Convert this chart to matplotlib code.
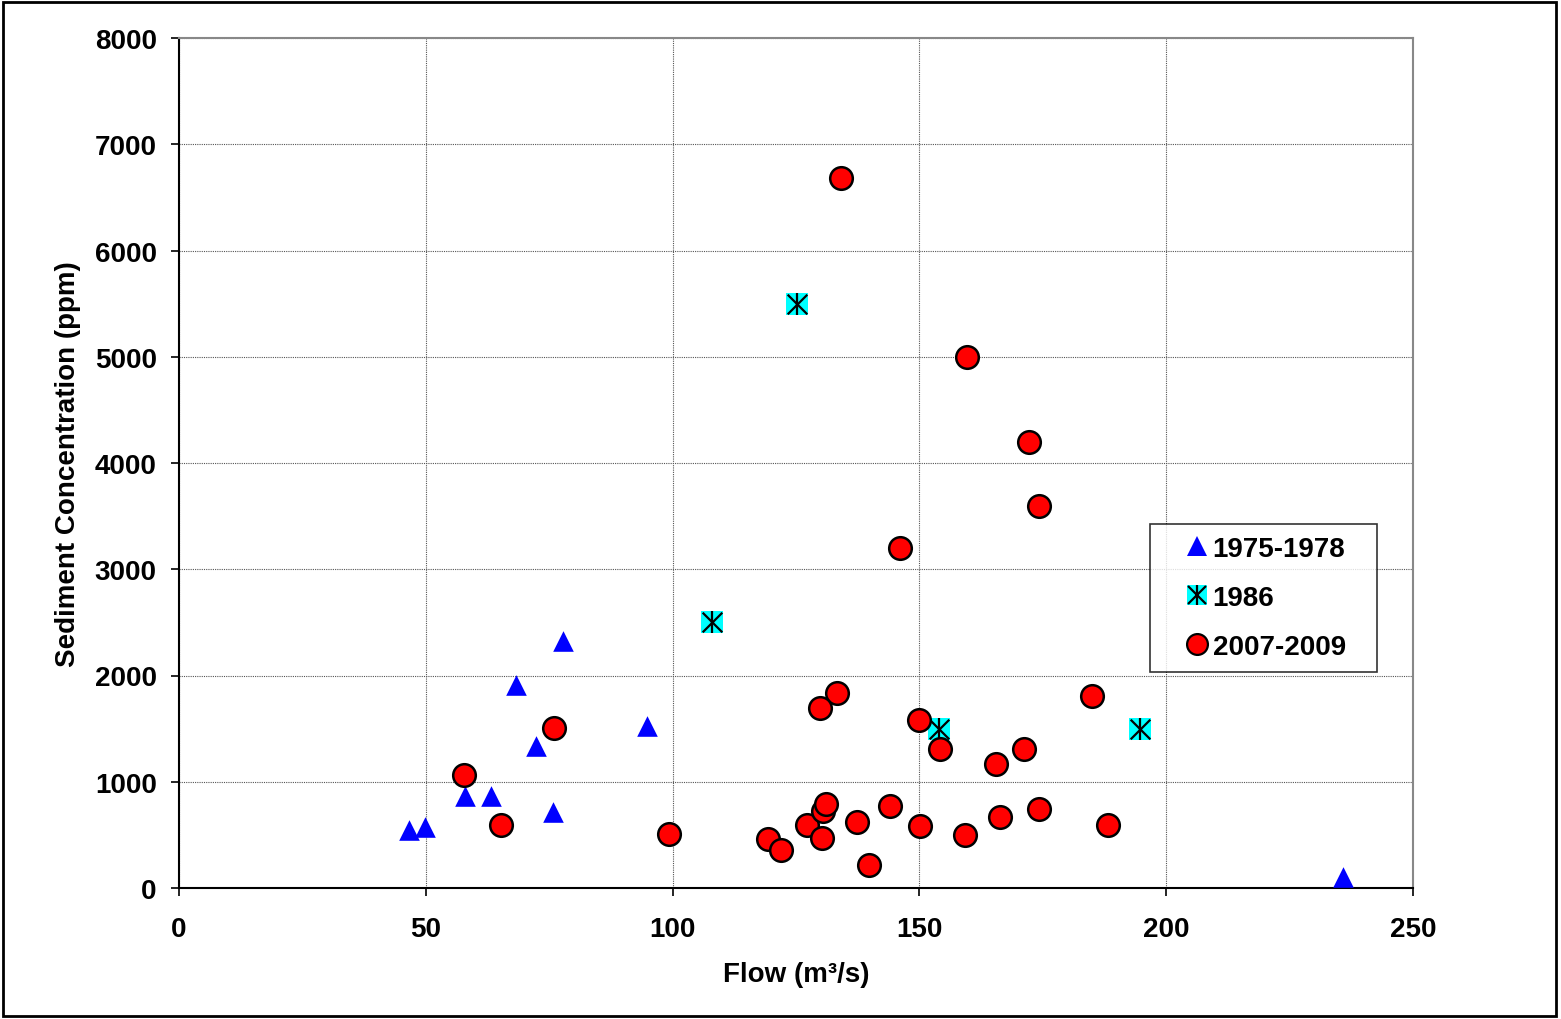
import matplotlib
matplotlib.use("Agg")
import matplotlib.pyplot as plt
from matplotlib.legend_handler import HandlerTuple
from matplotlib.lines import Line2D

plt.rcParams['font.family'] = ['Liberation Sans', 'DejaVu Sans']
plt.rcParams['font.weight'] = 'bold'

# 1975-1978 samples
flow_75 = [46.6, 49.8, 57.9, 63.2, 68.3, 72.3, 75.8, 77.8, 94.8, 235.8]
conc_75 = [550, 575, 865, 865, 1910, 1340, 715, 2325, 1525, 105]

# 1986 samples
flow_86 = [125.2, 108.0, 154.0, 194.7]
conc_86 = [5500, 2500, 1500, 1500]

# 2007-2009 samples
flow_07 = [134.1, 159.6, 172.2, 174.2, 146.1, 133.3, 129.9, 149.9, 154.2, 165.5,
           171.2, 185.0, 57.7, 76.0, 65.2, 99.3, 119.3, 122.0, 127.2, 130.5,
           131.1, 130.3, 137.4, 139.8, 144.0, 150.1, 159.2, 166.3, 174.2, 188.2]
conc_07 = [6680, 5000, 4200, 3600, 3200, 1840, 1695, 1580, 1305, 1165,
           1305, 1805, 1065, 1505, 595, 510, 460, 360, 590, 725,
           790, 470, 620, 215, 770, 585, 500, 670, 745, 595]

x_ticks = [0, 50, 100, 150, 200, 250]
y_ticks = [0, 1000, 2000, 3000, 4000, 5000, 6000, 7000, 8000]

fig = plt.figure(figsize=(15.61, 10.20), dpi=100)
ax = fig.add_axes([179/1561, 131/1020, 1234/1561, 850/1020])

# outer frame of the chart
fig.add_artist(plt.Rectangle((0.002, 0.003), 0.995, 0.994, transform=fig.transFigure,
                             fill=False, edgecolor='black', linewidth=2))

ax.scatter(flow_75, conc_75, marker='^', s=220, color='#0000ff', linewidths=0, zorder=3)
ax.scatter(flow_86, conc_86, marker='s', s=230, color='#00ffff', linewidths=0, zorder=3)
ax.scatter(flow_86, conc_86, marker='x', s=200, color='black', linewidths=1.6, zorder=4)
ax.scatter(flow_86, conc_86, marker='|', s=240, color='black', linewidths=1.6, zorder=4)
ax.scatter(flow_07, conc_07, marker='o', s=265, facecolor='#ff0000', edgecolor='black',
           linewidths=1.8, zorder=5)

ax.set_xlim(0, 250)
ax.set_ylim(0, 8000)
ax.set_xticks(x_ticks)
ax.set_yticks(y_ticks)
ax.grid(True, color='#555555', linestyle=(0, (1, 1)), linewidth=0.8, zorder=0)
ax.set_axisbelow(True)

for s in ['top', 'right']:
    ax.spines[s].set_color('#888888')
    ax.spines[s].set_linewidth(1.5)
for s in ['left', 'bottom']:
    ax.spines[s].set_color('black')
    ax.spines[s].set_linewidth(1.5)

ax.tick_params(axis='both', direction='out', length=6, width=1.2, labelsize=20)
ax.tick_params(axis='x', pad=14)
ax.tick_params(axis='y', pad=10)
for lab in ax.get_xticklabels() + ax.get_yticklabels():
    lab.set_fontweight('bold')

ax.set_xlabel('Flow (m³/s)', fontsize=20, fontweight='bold', va='center')
ax.xaxis.set_label_coords(0.5, -0.101)
ax.set_ylabel('Sediment Concentration (ppm)', fontsize=20, fontweight='bold', va='center')
ax.yaxis.set_label_coords(-0.090, 0.5)

h_tri = Line2D([], [], marker='^', linestyle='none', markersize=14,
               markerfacecolor='#0000ff', markeredgewidth=0)
h_sq = Line2D([], [], marker='s', linestyle='none', markersize=14,
              markerfacecolor='#00ffff', markeredgewidth=0)
h_x = Line2D([], [], marker='x', linestyle='none', markersize=13,
             markeredgecolor='black', markeredgewidth=1.6)
h_v = Line2D([], [], marker='|', linestyle='none', markersize=15,
             markeredgecolor='black', markeredgewidth=1.6)
h_c = Line2D([], [], marker='o', linestyle='none', markersize=15,
             markerfacecolor='#ff0000', markeredgecolor='black', markeredgewidth=1.6)

leg = ax.legend([h_tri, (h_sq, h_x, h_v), h_c], ['1975-1978', '1986', '2007-2009'],
                handler_map={tuple: HandlerTuple(ndivide=1, pad=0)},
                loc='upper left', bbox_to_anchor=(0.787, 0.2565, 0.184, 0.1715),
                mode='expand',
                prop={'size': 20, 'weight': 'bold'}, frameon=True, fancybox=False,
                handlelength=2.5, handletextpad=-0.67, labelspacing=0.83,
                borderpad=0.42, borderaxespad=0)
leg.get_frame().set_edgecolor('black')
leg.get_frame().set_linewidth(1.2)

fig.savefig('out.png', dpi=100)
